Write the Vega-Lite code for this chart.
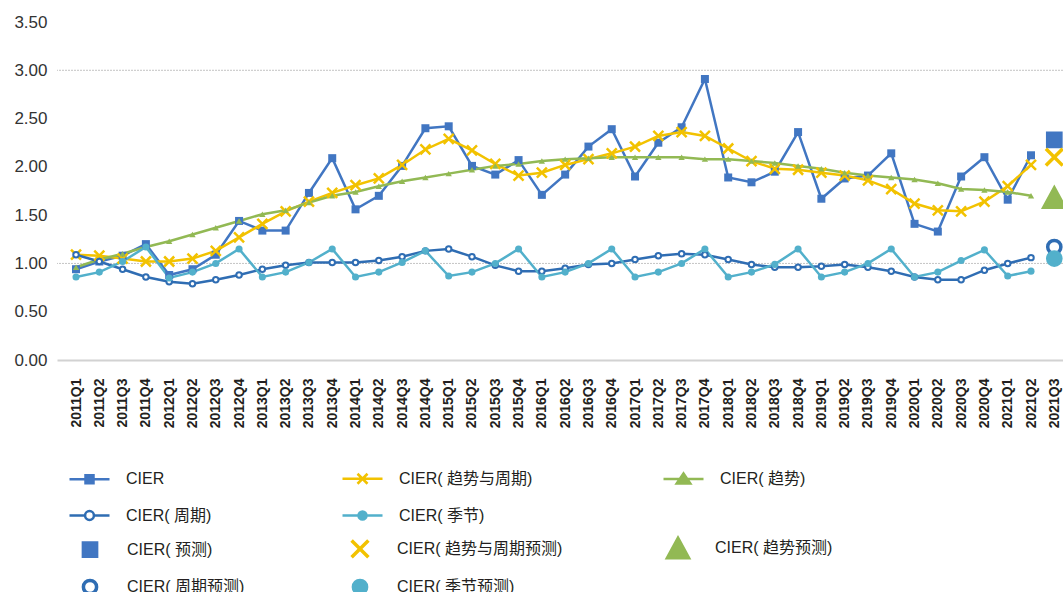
{
  "$schema": "https://vega.github.io/schema/vega-lite/v6.json",
  "width": 1006,
  "height": 338,
  "autosize": "none",
  "padding": {"left": 57, "top": 22, "right": 0, "bottom": 232},
  "background": "white",
  "config": {
    "view": {"stroke": null},
    "font": "Liberation Sans, Noto Sans CJK SC, sans-serif"
  },
  "resolve": {"scale": {"color": "independent"}, "legend": {"color": "independent"}},
  "datasets": {
    "main": [
      {"q":"2011Q1","s":"CIER","v":0.94},{"q":"2011Q2","s":"CIER","v":1.02},{"q":"2011Q3","s":"CIER","v":1.08},{"q":"2011Q4","s":"CIER","v":1.20},
      {"q":"2012Q1","s":"CIER","v":0.88},{"q":"2012Q2","s":"CIER","v":0.94},{"q":"2012Q3","s":"CIER","v":1.09},{"q":"2012Q4","s":"CIER","v":1.44},
      {"q":"2013Q1","s":"CIER","v":1.34},{"q":"2013Q2","s":"CIER","v":1.34},{"q":"2013Q3","s":"CIER","v":1.73},{"q":"2013Q4","s":"CIER","v":2.09},
      {"q":"2014Q1","s":"CIER","v":1.56},{"q":"2014Q2","s":"CIER","v":1.70},{"q":"2014Q3","s":"CIER","v":2.01},{"q":"2014Q4","s":"CIER","v":2.40},
      {"q":"2015Q1","s":"CIER","v":2.42},{"q":"2015Q2","s":"CIER","v":2.01},{"q":"2015Q3","s":"CIER","v":1.92},{"q":"2015Q4","s":"CIER","v":2.07},
      {"q":"2016Q1","s":"CIER","v":1.71},{"q":"2016Q2","s":"CIER","v":1.92},{"q":"2016Q3","s":"CIER","v":2.21},{"q":"2016Q4","s":"CIER","v":2.39},
      {"q":"2017Q1","s":"CIER","v":1.90},{"q":"2017Q2","s":"CIER","v":2.25},{"q":"2017Q3","s":"CIER","v":2.41},{"q":"2017Q4","s":"CIER","v":2.91},
      {"q":"2018Q1","s":"CIER","v":1.89},{"q":"2018Q2","s":"CIER","v":1.84},{"q":"2018Q3","s":"CIER","v":1.95},{"q":"2018Q4","s":"CIER","v":2.36},
      {"q":"2019Q1","s":"CIER","v":1.67},{"q":"2019Q2","s":"CIER","v":1.88},{"q":"2019Q3","s":"CIER","v":1.91},{"q":"2019Q4","s":"CIER","v":2.14},
      {"q":"2020Q1","s":"CIER","v":1.41},{"q":"2020Q2","s":"CIER","v":1.33},{"q":"2020Q3","s":"CIER","v":1.90},{"q":"2020Q4","s":"CIER","v":2.10},
      {"q":"2021Q1","s":"CIER","v":1.66},{"q":"2021Q2","s":"CIER","v":2.12},

      {"q":"2011Q1","s":"CIER( 趋势与周期)","v":1.09},{"q":"2011Q2","s":"CIER( 趋势与周期)","v":1.08},{"q":"2011Q3","s":"CIER( 趋势与周期)","v":1.05},{"q":"2011Q4","s":"CIER( 趋势与周期)","v":1.02},
      {"q":"2012Q1","s":"CIER( 趋势与周期)","v":1.02},{"q":"2012Q2","s":"CIER( 趋势与周期)","v":1.05},{"q":"2012Q3","s":"CIER( 趋势与周期)","v":1.13},{"q":"2012Q4","s":"CIER( 趋势与周期)","v":1.27},
      {"q":"2013Q1","s":"CIER( 趋势与周期)","v":1.41},{"q":"2013Q2","s":"CIER( 趋势与周期)","v":1.54},{"q":"2013Q3","s":"CIER( 趋势与周期)","v":1.64},{"q":"2013Q4","s":"CIER( 趋势与周期)","v":1.73},
      {"q":"2014Q1","s":"CIER( 趋势与周期)","v":1.81},{"q":"2014Q2","s":"CIER( 趋势与周期)","v":1.88},{"q":"2014Q3","s":"CIER( 趋势与周期)","v":2.02},{"q":"2014Q4","s":"CIER( 趋势与周期)","v":2.18},
      {"q":"2015Q1","s":"CIER( 趋势与周期)","v":2.29},{"q":"2015Q2","s":"CIER( 趋势与周期)","v":2.17},{"q":"2015Q3","s":"CIER( 趋势与周期)","v":2.03},{"q":"2015Q4","s":"CIER( 趋势与周期)","v":1.91},
      {"q":"2016Q1","s":"CIER( 趋势与周期)","v":1.94},{"q":"2016Q2","s":"CIER( 趋势与周期)","v":2.02},{"q":"2016Q3","s":"CIER( 趋势与周期)","v":2.08},{"q":"2016Q4","s":"CIER( 趋势与周期)","v":2.14},
      {"q":"2017Q1","s":"CIER( 趋势与周期)","v":2.21},{"q":"2017Q2","s":"CIER( 趋势与周期)","v":2.32},{"q":"2017Q3","s":"CIER( 趋势与周期)","v":2.36},{"q":"2017Q4","s":"CIER( 趋势与周期)","v":2.32},
      {"q":"2018Q1","s":"CIER( 趋势与周期)","v":2.19},{"q":"2018Q2","s":"CIER( 趋势与周期)","v":2.06},{"q":"2018Q3","s":"CIER( 趋势与周期)","v":1.98},{"q":"2018Q4","s":"CIER( 趋势与周期)","v":1.97},
      {"q":"2019Q1","s":"CIER( 趋势与周期)","v":1.94},{"q":"2019Q2","s":"CIER( 趋势与周期)","v":1.91},{"q":"2019Q3","s":"CIER( 趋势与周期)","v":1.86},{"q":"2019Q4","s":"CIER( 趋势与周期)","v":1.77},
      {"q":"2020Q1","s":"CIER( 趋势与周期)","v":1.62},{"q":"2020Q2","s":"CIER( 趋势与周期)","v":1.55},{"q":"2020Q3","s":"CIER( 趋势与周期)","v":1.54},{"q":"2020Q4","s":"CIER( 趋势与周期)","v":1.64},
      {"q":"2021Q1","s":"CIER( 趋势与周期)","v":1.80},{"q":"2021Q2","s":"CIER( 趋势与周期)","v":2.02},

      {"q":"2011Q1","s":"CIER( 趋势)","v":0.96},{"q":"2011Q2","s":"CIER( 趋势)","v":1.04},{"q":"2011Q3","s":"CIER( 趋势)","v":1.10},{"q":"2011Q4","s":"CIER( 趋势)","v":1.17},
      {"q":"2012Q1","s":"CIER( 趋势)","v":1.23},{"q":"2012Q2","s":"CIER( 趋势)","v":1.30},{"q":"2012Q3","s":"CIER( 趋势)","v":1.37},{"q":"2012Q4","s":"CIER( 趋势)","v":1.44},
      {"q":"2013Q1","s":"CIER( 趋势)","v":1.51},{"q":"2013Q2","s":"CIER( 趋势)","v":1.55},{"q":"2013Q3","s":"CIER( 趋势)","v":1.63},{"q":"2013Q4","s":"CIER( 趋势)","v":1.70},
      {"q":"2014Q1","s":"CIER( 趋势)","v":1.74},{"q":"2014Q2","s":"CIER( 趋势)","v":1.80},{"q":"2014Q3","s":"CIER( 趋势)","v":1.85},{"q":"2014Q4","s":"CIER( 趋势)","v":1.89},
      {"q":"2015Q1","s":"CIER( 趋势)","v":1.93},{"q":"2015Q2","s":"CIER( 趋势)","v":1.97},{"q":"2015Q3","s":"CIER( 趋势)","v":2.01},{"q":"2015Q4","s":"CIER( 趋势)","v":2.03},
      {"q":"2016Q1","s":"CIER( 趋势)","v":2.06},{"q":"2016Q2","s":"CIER( 趋势)","v":2.08},{"q":"2016Q3","s":"CIER( 趋势)","v":2.09},{"q":"2016Q4","s":"CIER( 趋势)","v":2.10},
      {"q":"2017Q1","s":"CIER( 趋势)","v":2.10},{"q":"2017Q2","s":"CIER( 趋势)","v":2.10},{"q":"2017Q3","s":"CIER( 趋势)","v":2.10},{"q":"2017Q4","s":"CIER( 趋势)","v":2.08},
      {"q":"2018Q1","s":"CIER( 趋势)","v":2.08},{"q":"2018Q2","s":"CIER( 趋势)","v":2.06},{"q":"2018Q3","s":"CIER( 趋势)","v":2.04},{"q":"2018Q4","s":"CIER( 趋势)","v":2.01},
      {"q":"2019Q1","s":"CIER( 趋势)","v":1.98},{"q":"2019Q2","s":"CIER( 趋势)","v":1.94},{"q":"2019Q3","s":"CIER( 趋势)","v":1.91},{"q":"2019Q4","s":"CIER( 趋势)","v":1.89},
      {"q":"2020Q1","s":"CIER( 趋势)","v":1.87},{"q":"2020Q2","s":"CIER( 趋势)","v":1.83},{"q":"2020Q3","s":"CIER( 趋势)","v":1.77},{"q":"2020Q4","s":"CIER( 趋势)","v":1.76},
      {"q":"2021Q1","s":"CIER( 趋势)","v":1.74},{"q":"2021Q2","s":"CIER( 趋势)","v":1.70},

      {"q":"2011Q1","s":"CIER( 周期)","v":1.09},{"q":"2011Q2","s":"CIER( 周期)","v":1.02},{"q":"2011Q3","s":"CIER( 周期)","v":0.94},{"q":"2011Q4","s":"CIER( 周期)","v":0.86},
      {"q":"2012Q1","s":"CIER( 周期)","v":0.81},{"q":"2012Q2","s":"CIER( 周期)","v":0.79},{"q":"2012Q3","s":"CIER( 周期)","v":0.83},{"q":"2012Q4","s":"CIER( 周期)","v":0.88},
      {"q":"2013Q1","s":"CIER( 周期)","v":0.94},{"q":"2013Q2","s":"CIER( 周期)","v":0.98},{"q":"2013Q3","s":"CIER( 周期)","v":1.01},{"q":"2013Q4","s":"CIER( 周期)","v":1.01},
      {"q":"2014Q1","s":"CIER( 周期)","v":1.01},{"q":"2014Q2","s":"CIER( 周期)","v":1.03},{"q":"2014Q3","s":"CIER( 周期)","v":1.07},{"q":"2014Q4","s":"CIER( 周期)","v":1.13},
      {"q":"2015Q1","s":"CIER( 周期)","v":1.15},{"q":"2015Q2","s":"CIER( 周期)","v":1.07},{"q":"2015Q3","s":"CIER( 周期)","v":0.98},{"q":"2015Q4","s":"CIER( 周期)","v":0.92},
      {"q":"2016Q1","s":"CIER( 周期)","v":0.92},{"q":"2016Q2","s":"CIER( 周期)","v":0.95},{"q":"2016Q3","s":"CIER( 周期)","v":0.99},{"q":"2016Q4","s":"CIER( 周期)","v":1.00},
      {"q":"2017Q1","s":"CIER( 周期)","v":1.04},{"q":"2017Q2","s":"CIER( 周期)","v":1.08},{"q":"2017Q3","s":"CIER( 周期)","v":1.10},{"q":"2017Q4","s":"CIER( 周期)","v":1.09},
      {"q":"2018Q1","s":"CIER( 周期)","v":1.04},{"q":"2018Q2","s":"CIER( 周期)","v":0.99},{"q":"2018Q3","s":"CIER( 周期)","v":0.96},{"q":"2018Q4","s":"CIER( 周期)","v":0.96},
      {"q":"2019Q1","s":"CIER( 周期)","v":0.97},{"q":"2019Q2","s":"CIER( 周期)","v":0.99},{"q":"2019Q3","s":"CIER( 周期)","v":0.96},{"q":"2019Q4","s":"CIER( 周期)","v":0.92},
      {"q":"2020Q1","s":"CIER( 周期)","v":0.86},{"q":"2020Q2","s":"CIER( 周期)","v":0.83},{"q":"2020Q3","s":"CIER( 周期)","v":0.83},{"q":"2020Q4","s":"CIER( 周期)","v":0.93},
      {"q":"2021Q1","s":"CIER( 周期)","v":1.00},{"q":"2021Q2","s":"CIER( 周期)","v":1.06},

      {"q":"2011Q1","s":"CIER( 季节)","v":0.86},{"q":"2011Q2","s":"CIER( 季节)","v":0.91},{"q":"2011Q3","s":"CIER( 季节)","v":1.02},{"q":"2011Q4","s":"CIER( 季节)","v":1.17},
      {"q":"2012Q1","s":"CIER( 季节)","v":0.85},{"q":"2012Q2","s":"CIER( 季节)","v":0.91},{"q":"2012Q3","s":"CIER( 季节)","v":1.00},{"q":"2012Q4","s":"CIER( 季节)","v":1.15},
      {"q":"2013Q1","s":"CIER( 季节)","v":0.86},{"q":"2013Q2","s":"CIER( 季节)","v":0.91},{"q":"2013Q3","s":"CIER( 季节)","v":1.01},{"q":"2013Q4","s":"CIER( 季节)","v":1.15},
      {"q":"2014Q1","s":"CIER( 季节)","v":0.86},{"q":"2014Q2","s":"CIER( 季节)","v":0.91},{"q":"2014Q3","s":"CIER( 季节)","v":1.01},{"q":"2014Q4","s":"CIER( 季节)","v":1.13},
      {"q":"2015Q1","s":"CIER( 季节)","v":0.87},{"q":"2015Q2","s":"CIER( 季节)","v":0.91},{"q":"2015Q3","s":"CIER( 季节)","v":1.00},{"q":"2015Q4","s":"CIER( 季节)","v":1.15},
      {"q":"2016Q1","s":"CIER( 季节)","v":0.86},{"q":"2016Q2","s":"CIER( 季节)","v":0.91},{"q":"2016Q3","s":"CIER( 季节)","v":1.00},{"q":"2016Q4","s":"CIER( 季节)","v":1.15},
      {"q":"2017Q1","s":"CIER( 季节)","v":0.86},{"q":"2017Q2","s":"CIER( 季节)","v":0.91},{"q":"2017Q3","s":"CIER( 季节)","v":1.00},{"q":"2017Q4","s":"CIER( 季节)","v":1.15},
      {"q":"2018Q1","s":"CIER( 季节)","v":0.86},{"q":"2018Q2","s":"CIER( 季节)","v":0.91},{"q":"2018Q3","s":"CIER( 季节)","v":0.99},{"q":"2018Q4","s":"CIER( 季节)","v":1.15},
      {"q":"2019Q1","s":"CIER( 季节)","v":0.86},{"q":"2019Q2","s":"CIER( 季节)","v":0.91},{"q":"2019Q3","s":"CIER( 季节)","v":1.00},{"q":"2019Q4","s":"CIER( 季节)","v":1.15},
      {"q":"2020Q1","s":"CIER( 季节)","v":0.86},{"q":"2020Q2","s":"CIER( 季节)","v":0.91},{"q":"2020Q3","s":"CIER( 季节)","v":1.03},{"q":"2020Q4","s":"CIER( 季节)","v":1.14},
      {"q":"2021Q1","s":"CIER( 季节)","v":0.87},{"q":"2021Q2","s":"CIER( 季节)","v":0.92}
    ],
    "fc": [
      {"q":"2021Q3","s":"CIER( 预测)","v":2.28},
      {"q":"2021Q3","s":"CIER( 趋势与周期预测)","v":2.10},
      {"q":"2021Q3","s":"CIER( 趋势预测)","v":1.68},
      {"q":"2021Q3","s":"CIER( 周期预测)","v":1.17},
      {"q":"2021Q3","s":"CIER( 季节预测)","v":1.05}
    ]
  },
  "layer": [
    {
      "data": {"values": [{"g": 1}, {"g": 3}]},
      "mark": {"type": "rule", "color": "#c4c4c4", "strokeDash": [2, 1], "strokeWidth": 1},
      "encoding": {"y": {"field": "g", "type": "quantitative"}}
    },
    {
      "data": {"name": "main"},
      "mark": {"type": "line", "strokeWidth": 2.5},
      "encoding": {
        "x": {
          "field": "q", "type": "ordinal",
          "scale": {"type": "point", "padding": 0.595, "align": 0.686},
          "axis": {
            "title": null, "grid": false, "ticks": false, "tickSize": 0,
            "domainColor": "#d2d2d2", "domainWidth": 2,
            "labelAngle": 270, "labelFont": "Liberation Sans", "labelFontSize": 14,
            "labelFontWeight": "bold", "labelColor": "#231f20", "labelPadding": 18
          }
        },
        "y": {
          "field": "v", "type": "quantitative",
          "scale": {"domain": [0, 3.5], "nice": false},
          "axis": {
            "title": null, "grid": false, "ticks": false, "domain": false,
            "values": [0, 0.5, 1, 1.5, 2, 2.5, 3, 3.5], "format": ".2f",
            "labelFont": "Liberation Sans", "labelFontSize": 17, "labelColor": "#333333", "labelPadding": 10
          }
        },
        "color": {
          "field": "s", "type": "nominal",
          "scale": {
            "domain": ["CIER", "CIER( 趋势与周期)", "CIER( 趋势)", "CIER( 周期)", "CIER( 季节)"],
            "range": ["#4176c2", "#f2c200", "#92b954", "#2f6db3", "#52b0cb"]
          },
          "legend": {
            "title": null, "orient": "none", "legendX": 11, "legendY": 435,
            "direction": "horizontal",
            "columns": 3, "columnPadding": 125, "rowPadding": 5, "padding": 0,
            "symbolSize": 1600, "symbolStrokeWidth": 2.5, "labelOffset": 15, "labelLimit": 400,
            "labelFont": "Liberation Sans, Noto Sans CJK SC", "labelFontSize": 16, "labelColor": "#231f20",
            "encode": {
              "symbols": {
                "update": {
                  "shape": {"signal": "['M-1,0H1M-0.2,-0.2H0.2V0.2H-0.2Z','M-1,0H1M-0.25,-0.25L0.25,0.25M-0.25,0.25L0.25,-0.25','M-1,0H1M0,-0.28L0.34,0.22L-0.34,0.22Z','M-1,0H-0.22M0.22,0H1M0.22,0A0.22,0.22 0 1,1 -0.22,0A0.22,0.22 0 1,1 0.22,0Z','M-1,0H1M0.2,0A0.2,0.2 0 1,1 -0.2,0A0.2,0.2 0 1,1 0.2,0Z'][indexof(['CIER','CIER( 趋势与周期)','CIER( 趋势)','CIER( 周期)','CIER( 季节)'], datum.value)]"},
                  "fill": {"signal": "['#4176c2','transparent','#92b954','#ffffff','#52b0cb'][indexof(['CIER','CIER( 趋势与周期)','CIER( 趋势)','CIER( 周期)','CIER( 季节)'], datum.value)]"},
                  "stroke": {"signal": "['#4176c2','#f2c200','#92b954','#2f6db3','#52b0cb'][indexof(['CIER','CIER( 趋势与周期)','CIER( 趋势)','CIER( 周期)','CIER( 季节)'], datum.value)]"},
                  "strokeWidth": {"value": 2.5},
                  "opacity": {"value": 1}
                }
              }
            }
          }
        }
      }
    },
    {
      "data": {"name": "main"},
      "transform": [{"filter": {"field": "s", "equal": "CIER"}}],
      "mark": {"type": "point", "shape": "square", "size": 64, "filled": true, "color": "#4176c2", "opacity": 1},
      "encoding": {"x": {"field": "q", "type": "ordinal"}, "y": {"field": "v", "type": "quantitative"}}
    },
    {
      "data": {"name": "main"},
      "transform": [{"filter": {"field": "s", "equal": "CIER( 趋势与周期)"}}],
      "mark": {"type": "point", "shape": "M-1,-1L1,1M-1,1L1,-1", "size": 100, "filled": false, "stroke": "#f2c200", "strokeWidth": 2.5, "opacity": 1},
      "encoding": {"x": {"field": "q", "type": "ordinal"}, "y": {"field": "v", "type": "quantitative"}}
    },
    {
      "data": {"name": "main"},
      "transform": [{"filter": {"field": "s", "equal": "CIER( 趋势)"}}],
      "mark": {"type": "point", "shape": "triangle-up", "size": 40, "filled": true, "color": "#92b954", "opacity": 1},
      "encoding": {"x": {"field": "q", "type": "ordinal"}, "y": {"field": "v", "type": "quantitative"}}
    },
    {
      "data": {"name": "main"},
      "transform": [{"filter": {"field": "s", "equal": "CIER( 周期)"}}],
      "mark": {"type": "point", "shape": "circle", "size": 30, "fill": "#ffffff", "stroke": "#2f6db3", "strokeWidth": 2, "opacity": 1},
      "encoding": {"x": {"field": "q", "type": "ordinal"}, "y": {"field": "v", "type": "quantitative"}}
    },
    {
      "data": {"name": "main"},
      "transform": [{"filter": {"field": "s", "equal": "CIER( 季节)"}}],
      "mark": {"type": "point", "shape": "circle", "size": 50, "filled": true, "color": "#52b0cb", "opacity": 1},
      "encoding": {"x": {"field": "q", "type": "ordinal"}, "y": {"field": "v", "type": "quantitative"}}
    },
    {
      "data": {"name": "fc"},
      "mark": {
        "type": "point", "size": 1600, "strokeWidth": 3.5, "opacity": 1, "filled": false,
        "shape": {"expr": "['M-0.33,-0.33H0.33V0.33H-0.33Z','M-0.42,-0.42L0.42,0.42M-0.42,0.42L0.42,-0.42','M0,-0.48L0.52,0.48H-0.52Z','M0.33,0A0.33,0.33 0 1,1 -0.33,0A0.33,0.33 0 1,1 0.33,0Z','M0.33,0A0.33,0.33 0 1,1 -0.33,0A0.33,0.33 0 1,1 0.33,0Z'][indexof(['CIER( 预测)','CIER( 趋势与周期预测)','CIER( 趋势预测)','CIER( 周期预测)','CIER( 季节预测)'], datum.s || datum.value)]"},
        "fill": {"expr": "['#4176c2','transparent','#92b954','#ffffff','#52b0cb'][indexof(['CIER( 预测)','CIER( 趋势与周期预测)','CIER( 趋势预测)','CIER( 周期预测)','CIER( 季节预测)'], datum.s || datum.value)]"}
      },
      "encoding": {
        "x": {"field": "q", "type": "ordinal"},
        "y": {"field": "v", "type": "quantitative"},
        "color": {
          "field": "s", "type": "nominal",
          "scale": {
            "domain": ["CIER( 预测)", "CIER( 趋势与周期预测)", "CIER( 趋势预测)", "CIER( 周期预测)", "CIER( 季节预测)"],
            "range": ["#4176c2", "#f2c200", "#92b954", "#2f6db3", "#52b0cb"]
          },
          "legend": {
            "title": null, "orient": "none", "legendX": 11, "legendY": 504,
            "direction": "horizontal",
            "columns": 3, "columnPadding": 93, "rowPadding": -5, "padding": 0,
            "symbolSize": 1600, "symbolStrokeWidth": 3.5, "labelOffset": 15, "labelLimit": 400,
            "labelFont": "Liberation Sans, Noto Sans CJK SC", "labelFontSize": 16, "labelColor": "#231f20",
            "encode": {
              "symbols": {
                "update": {
                  "shape": {"signal": "['M-0.33,-0.33H0.33V0.33H-0.33Z','M-0.42,-0.42L0.42,0.42M-0.42,0.42L0.42,-0.42','M0,-0.48L0.52,0.48H-0.52Z','M0.33,0A0.33,0.33 0 1,1 -0.33,0A0.33,0.33 0 1,1 0.33,0Z','M0.33,0A0.33,0.33 0 1,1 -0.33,0A0.33,0.33 0 1,1 0.33,0Z'][indexof(['CIER( 预测)','CIER( 趋势与周期预测)','CIER( 趋势预测)','CIER( 周期预测)','CIER( 季节预测)'], datum.value)]"},
                  "fill": {"signal": "['#4176c2','transparent','#92b954','#ffffff','#52b0cb'][indexof(['CIER( 预测)','CIER( 趋势与周期预测)','CIER( 趋势预测)','CIER( 周期预测)','CIER( 季节预测)'], datum.value)]"},
                  "stroke": {"signal": "['#4176c2','#f2c200','#92b954','#2f6db3','#52b0cb'][indexof(['CIER( 预测)','CIER( 趋势与周期预测)','CIER( 趋势预测)','CIER( 周期预测)','CIER( 季节预测)'], datum.value)]"},
                  "strokeWidth": {"value": 3.5},
                  "opacity": {"value": 1}
                }
              }
            }
          }
        }
      }
    }
  ]
}
